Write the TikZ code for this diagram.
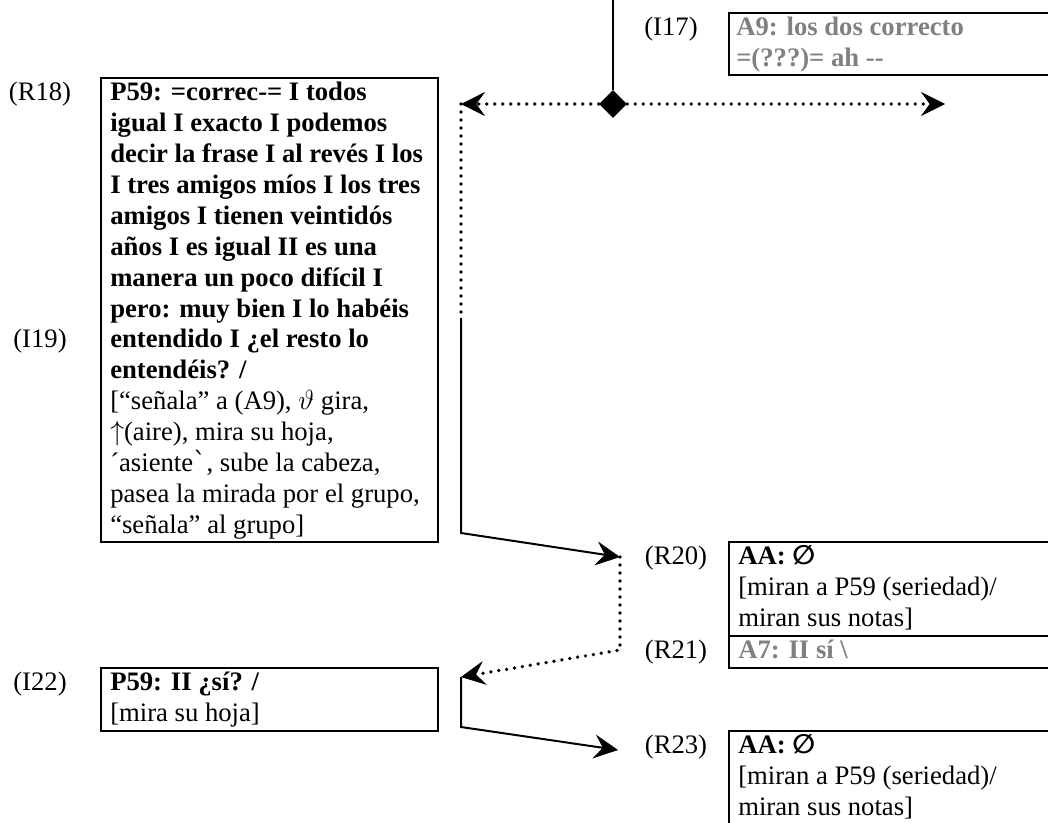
\documentclass[tikz,border=0pt]{standalone}
\usepackage{fontspec}
\setmainfont{Liberation Serif}
\newfontfamily\symsans{DejaVu Sans}
\newfontfamily\symserif{DejaVu Serif}
\usetikzlibrary{arrows.meta,shapes.geometric}
\definecolor{speechgray}{RGB}{128,128,128}
\newcommand\nullset{{\symsans\bfseries ∅}}
\newcommand\turnlines[1]{\begin{tabular}[t]{@{}l@{}}#1\end{tabular}}

\begin{document}
\begin{tikzpicture}[x=0.75pt,y=-0.75pt,
  cellbox/.style={draw, line width=1.5pt, anchor=north west, inner sep=0pt},
  turntext/.style={anchor=base west, inner sep=0pt, font=\fontsize{20}{23.2}\selectfont},
  turnlabel/.style={anchor=base, inner sep=0pt, font=\fontsize{20}{23.2}\selectfont},
  solidline/.style={line width=1.5pt},
  dotline/.style={line width=2.8pt, dash pattern=on 0pt off 6pt, line cap=round},
  bigtip/.style={-{Stealth[length=18pt,width=18pt,inset=6.5pt,line width=0.6pt]}},
  hubdiamond/.style={diamond, fill=black, inner sep=0pt, minimum width=21pt, minimum height=21pt}
]
\useasboundingbox (0,0) rectangle (1048,822);
\clip (0,0) rectangle (1048,822);

% cell frames
\node[cellbox, minimum width=332.5*0.75pt, minimum height=62*0.75pt]   (i17box) at (727.5,12) {};
\node[cellbox, minimum width=337.5*0.75pt, minimum height=464*0.75pt]  (r18box) at (99.5,77) {};
\node[cellbox, minimum width=332.5*0.75pt, minimum height=93.5*0.75pt] (r20box) at (727.5,541) {};
\node[cellbox, minimum width=332.5*0.75pt, minimum height=32.5*0.75pt] (r21box) at (727.5,634.5) {};
\node[cellbox, minimum width=337.5*0.75pt, minimum height=62.5*0.75pt] (i22box) at (99.5,667) {};
\node[cellbox, minimum width=332.5*0.75pt, minimum height=100*0.75pt]  (r23box) at (727.5,730) {};

% turn texts
\node[turntext, text=speechgray] (i17text) at (736,35.5) {\turnlines{%
  \textbf{A9: los dos correcto}\\
  \textbf{=(???)= ah \mbox{-}\mbox{-}}}};
\node[turntext] (r18text) at (110,100.5) {\turnlines{%
  \textbf{P59: =correc-= I todos}\\
  \textbf{igual I exacto I podemos}\\
  \textbf{decir la frase I al revés I los}\\
  \textbf{I tres amigos míos I los tres}\\
  \textbf{amigos I tienen veintidós}\\
  \textbf{años I es igual II es una}\\
  \textbf{manera un poco difícil I}\\
  \textbf{pero: muy bien I lo habéis}\\
  \textbf{entendido I ¿el resto lo}\\
  \textbf{entendéis? /}\\
  {[}“señala” a (A9), $\vartheta$ gira,\\
  $\uparrow$(aire), mira su hoja,\\
  ´asiente{\symserif ˋ}, sube la cabeza,\\
  pasea la mirada por el grupo,\\
  “señala” al grupo]}};
\node[turntext] (r20text) at (738,564.5) {\turnlines{%
  \textbf{AA:} \nullset\\
  {[}miran a P59 (seriedad)/\\
  miran sus notas]}};
\node[turntext, text=speechgray] (r21text) at (738,658) {\turnlines{%
  \textbf{A7: II sí \textbackslash}}};
\node[turntext] (i22text) at (110,690.5) {\turnlines{%
  \textbf{P59: II ¿sí? /}\\
  {[}mira su hoja]}};
\node[turntext] (r23text) at (738,753.5) {\turnlines{%
  \textbf{AA:} \nullset\\
  {[}miran a P59 (seriedad)/\\
  miran sus notas]}};

% turn labels
\node[turnlabel] (i17lab) at (671,35.5) {(I17)};
\node[turnlabel] (r18lab) at (40,100.5) {(R18)};
\node[turnlabel] (i19lab) at (40,347.9) {(I19)};
\node[turnlabel] (r20lab) at (676,564.5) {(R20)};
\node[turnlabel] (r21lab) at (676,658) {(R21)};
\node[turnlabel] (i22lab) at (40,690.5) {(I22)};
\node[turnlabel] (r23lab) at (676,753.5) {(R23)};

% connectors
\coordinate (topend) at (613,0);
\node[hubdiamond] (hub) at (613,104) {};
\coordinate (leftturn) at (461,104);
\coordinate (rightend) at (945,104);
\coordinate (dotend) at (461,318);
\coordinate (bendone) at (461,533);
\coordinate (tiptwenty) at (620,557);
\coordinate (turntwenty) at (620,650);
\coordinate (tiptwentytwo) at (461,677);
\coordinate (bendtwo) at (461,727);
\coordinate (tiptwentythree) at (618,750);

\draw[solidline] (topend) -- (hub.north);
\draw[dotline, bigtip] (hub.west) -- (leftturn);
\draw[dotline, bigtip] (hub.east) -- (rightend);
\draw[dotline] (leftturn) -- (dotend);
\draw[solidline, bigtip] (dotend) -- (bendone) -- (tiptwenty);
\draw[dotline, bigtip] (tiptwenty) -- (turntwenty) -- (tiptwentytwo);
\draw[solidline, bigtip] (tiptwentytwo) -- (bendtwo) -- (tiptwentythree);
\end{tikzpicture}
\end{document}
